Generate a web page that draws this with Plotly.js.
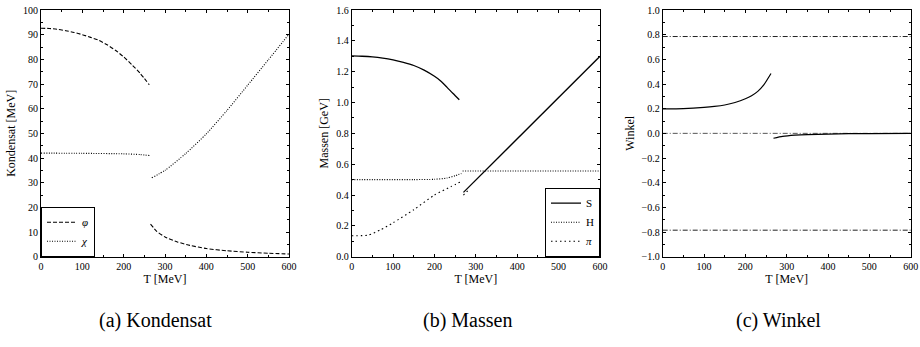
<!DOCTYPE html>
<html><head><meta charset="utf-8">
<script src="https://cdn.plot.ly/plotly-3.0.1.min.js"></script>
<style>html,body{margin:0;padding:0;background:#fff}#c{width:920px;height:347px}</style>
</head><body><div id="c"></div>
<script>
// Panel (a) Kondensat [MeV]
const phiT1 = [0, 20, 40, 60, 80, 100, 120, 140, 160, 180, 200, 220, 240, 262];
const phiV1 = [92.6, 92.5, 92.2, 91.6, 90.9, 90.0, 88.9, 87.7, 85.9, 83.7, 81.0, 77.8, 74.3, 69.7];
const phiT2 = [265, 280, 300, 330, 360, 400, 450, 500, 550, 600];
const phiV2 = [13.2, 10.3, 8.0, 6.0, 4.6, 3.3, 2.4, 1.8, 1.4, 1.1];
const chiT1 = [0, 100, 200, 240, 263];
const chiV1 = [42.0, 41.9, 41.7, 41.4, 41.0];
const chiT2 = [268, 300, 350, 400, 450, 500, 550, 600];
const chiV2 = [32.0, 35.0, 41.8, 49.8, 59.3, 69.5, 79.8, 90.2];
// Panel (b) Massen [GeV]
const sT1 = [0, 25, 50, 75, 100, 125, 150, 175, 200, 215, 230, 245, 260];
const sV1 = [1.302, 1.300, 1.296, 1.288, 1.276, 1.260, 1.240, 1.210, 1.170, 1.140, 1.100, 1.058, 1.018];
const sT2 = [270, 600];
const sV2 = [0.417, 1.300];
const hT1 = [0, 150, 200, 230, 250, 265];
const hV1 = [0.500, 0.500, 0.502, 0.510, 0.525, 0.540];
const hT2 = [268, 600];
const hV2 = [0.556, 0.556];
const piT1 = [0, 40, 70, 100, 150, 200, 240, 265];
const piV1 = [0.136, 0.140, 0.175, 0.220, 0.305, 0.400, 0.455, 0.488];
const piT2 = [270, 285];
const piV2 = [0.400, 0.440];
// Panel (c) Winkel
const wT1 = [0, 50, 100, 125, 150, 175, 200, 215, 230, 245, 262];
const wV1 = [0.198, 0.200, 0.210, 0.218, 0.230, 0.250, 0.280, 0.305, 0.340, 0.395, 0.485];
const wT2 = [268, 290, 320, 350, 400, 450, 500, 600];
const wV2 = [-0.040, -0.025, -0.015, -0.010, -0.006, -0.003, -0.002, 0.0];
const refT = [0, 600];
const refUp = [0.785, 0.785];
const refZero = [0, 0];
const refDown = [-0.785, -0.785];

const serif = 'Liberation Serif';
const blk = '#000';
const W = 920, H = 347;
function dx(a, b) { return [a / W, b / W]; }
const ydom = [1 - 256.7 / H, 1 - 10 / H];

function tr(x, y, xa, ya, dash, name, show, legend, color, width) {
  return {x: x, y: y, xaxis: xa, yaxis: ya, mode: 'lines', name: name, showlegend: show,
    legend: legend, line: {color: color || blk, width: width || 1.1, dash: dash, shape: 'spline', smoothing: 0.6}};
}
const dashPhi = '4px,2px';
const dotChi = '1px,1.5px';
const dotPi = '1.5px,3px';
const dashDot = '5px,2px,1px,2px';

const data = [
  tr(phiT1, phiV1, 'x', 'y', dashPhi, '<i>φ</i>', true, 'legend'),
  tr(chiT1, chiV1, 'x', 'y', dotChi, '<i>χ</i>', true, 'legend'),
  tr(phiT2, phiV2, 'x', 'y', dashPhi, 'φ2', false, 'legend'),
  tr(chiT2, chiV2, 'x', 'y', dotChi, 'χ2', false, 'legend'),
  tr(sT1, sV1, 'x2', 'y2', 'solid', 'S', true, 'legend2', blk, 1.3),
  tr(hT1, hV1, 'x2', 'y2', dotChi, 'H', true, 'legend2'),
  tr(piT1, piV1, 'x2', 'y2', dotPi, '<i>π</i>', true, 'legend2'),
  tr(sT2, sV2, 'x2', 'y2', 'solid', 'S2', false, 'legend2', blk, 1.3),
  tr(hT2, hV2, 'x2', 'y2', dotChi, 'H2', false, 'legend2'),
  tr(piT2, piV2, 'x2', 'y2', dotPi, 'π2', false, 'legend2'),
  tr(refT, refUp, 'x3', 'y3', dashDot, 'r1', false, 'legend', '#222', 1),
  tr(refT, refZero, 'x3', 'y3', dashDot, 'r2', false, 'legend', '#555', 1),
  tr(refT, refDown, 'x3', 'y3', dashDot, 'r3', false, 'legend', '#222', 1),
  tr(wT1, wV1, 'x3', 'y3', 'solid', 'w1', false, 'legend', blk, 1.2),
  tr(wT2, wV2, 'x3', 'y3', 'solid', 'w2', false, 'legend', blk, 1.2)
];

const tickFont = {family: serif, size: 10, color: blk};
const titleFont = {family: serif, size: 12, color: blk};
function xax(dom, anchor) {
  return {domain: dom, anchor: anchor, range: [0, 600], dtick: 100, tick0: 0,
    ticks: 'inside', ticklen: 3, tickcolor: blk, mirror: 'allticks', showline: true,
    linecolor: blk, linewidth: 1, showgrid: false, zeroline: false, tickfont: tickFont,
    minor: {dtick: 50, ticks: 'inside', ticklen: 2, tickcolor: blk},
    title: {text: 'T [MeV]', font: titleFont, standoff: 2}};
}
function yax(anchor, range, dtick, title, fmt) {
  return {domain: ydom, anchor: anchor, range: range, dtick: dtick, tick0: range[0],
    ticks: 'inside', ticklen: 3, tickcolor: blk, mirror: 'allticks', showline: true,
    linecolor: blk, linewidth: 1, showgrid: false, zeroline: false, tickfont: tickFont,
    tickformat: fmt, minor: {dtick: dtick / 2, ticks: 'inside', ticklen: 2, tickcolor: blk},
    title: {text: title, font: titleFont, standoff: 4}};
}
const legBase = {bgcolor: '#fff', bordercolor: blk, borderwidth: 1,
  font: {family: serif, size: 11, color: blk}, tracegroupgap: 0, itemwidth: 30};

const layout = {
  width: W, height: H, margin: {l: 0, r: 0, t: 0, b: 0},
  paper_bgcolor: '#fff', plot_bgcolor: '#fff', showlegend: true,
  font: {family: serif, color: blk},
  xaxis: xax(dx(41, 289), 'y'),
  yaxis: yax('x', [0, 100], 10, 'Kondensat [MeV]', 'd'),
  xaxis2: xax(dx(351.7, 600), 'y2'),
  yaxis2: yax('x2', [0, 1.6], 0.2, 'Massen [GeV]', '.1f'),
  xaxis3: xax(dx(662.7, 910.7), 'y3'),
  yaxis3: yax('x3', [-1, 1], 0.2, 'Winkel', '.1f'),
  legend: Object.assign({}, legBase, {x: 41 / W, y: ydom[0], xanchor: 'left', yanchor: 'bottom'}),
  legend2: Object.assign({}, legBase, {x: 600 / W, y: ydom[0], xanchor: 'right', yanchor: 'bottom'}),
  annotations: [
    {text: '(a) Kondensat', x: 155 / W, y: 1 - 320 / H},
    {text: '(b) Massen', x: 467 / W, y: 1 - 320 / H},
    {text: '(c) Winkel', x: 778 / W, y: 1 - 320 / H}
  ].map(a => Object.assign(a, {xref: 'paper', yref: 'paper', showarrow: false,
    xanchor: 'center', yanchor: 'middle', font: {family: serif, size: 20, color: blk}}))
};
Plotly.newPlot('c', data, layout, {staticPlot: true, displayModeBar: false});
</script></body></html>
